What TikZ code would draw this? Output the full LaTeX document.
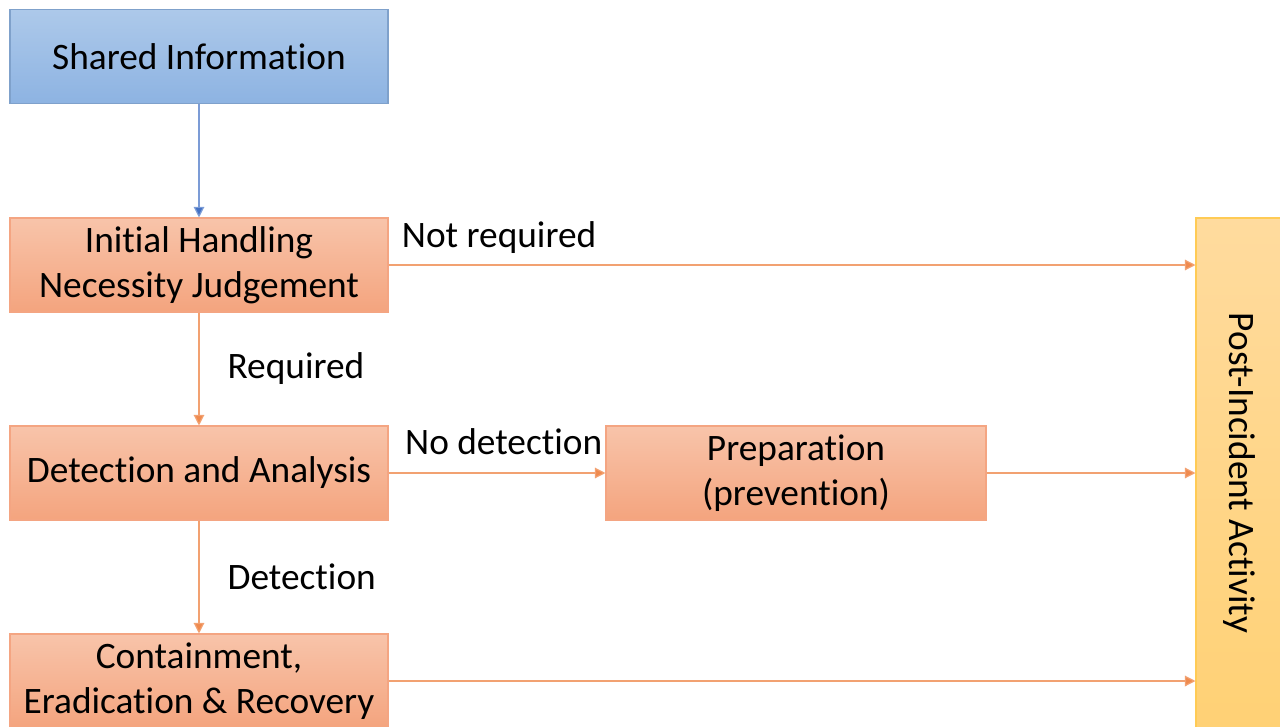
\documentclass[tikz,border=0pt]{standalone}
\usepackage{fontspec}
\setmainfont{Carlito}[RawFeature=-liga]
\usetikzlibrary{arrows.meta}

\definecolor{blueTop}{HTML}{ADC9EA}
\definecolor{blueBot}{HTML}{8DB3E2}
\definecolor{blueLine}{HTML}{4472C4}
\definecolor{orTop}{HTML}{F8C4AA}
\definecolor{orBot}{HTML}{F4A47E}
\definecolor{orEdge}{HTML}{F4A582}
\definecolor{orLine}{HTML}{EF8A4E}
\definecolor{yeTop}{HTML}{FFDB9E}
\definecolor{yeBot}{HTML}{FFD175}
\definecolor{yeEdge}{HTML}{FFCB55}

\begin{document}
\begin{tikzpicture}[x=0.75pt, y=-0.75pt,
    font=\fontsize{28pt}{33.5pt}\selectfont,
    box/.style={draw, line width=0.8pt, align=center, inner sep=0pt,
        minimum width=283.5pt, minimum height=70.5pt},
    bluebox/.style={box, draw=blueBot!90!black, top color=blueTop, bottom color=blueBot},
    orbox/.style={box, draw=orEdge, top color=orTop, bottom color=orBot},
    link/.style={line width=0.9pt, draw=orLine!80, -{Triangle[length=8pt,width=8pt,fill=orLine]}},
    lbl/.style={inner sep=0pt}]
    \useasboundingbox (0,0) rectangle (1280,727);
    \clip (0,0) rectangle (1280,727);
    % left column
    \node[bluebox] (Shared) at (199,56.5) {Shared Information};
    \node[orbox] (Initial) at (199,265) {Initial Handling\\Necessity Judgement};
    \node[orbox] (Detect) at (199,473) {Detection and Analysis};
    \node[orbox] (Contain) at (199,681) {Containment,\\Eradication \& Recovery};
    % middle and right
    \node[orbox, minimum width=285pt] (Prep) at (796,473) {Preparation\\(prevention)};
    \node[box, draw=yeEdge, top color=yeTop, bottom color=yeBot,
        minimum width=64.5pt, minimum height=382.5pt] (Post) at (1239,473)
        {\rotatebox{-90}{Post-Incident Activity}};
    % connectors
    \draw[line width=0.9pt, draw=blueLine!70,
        -{Triangle[length=8pt,width=8pt,fill=blueLine]}] (Shared) -- (Initial);
    \draw[link] (Initial) -- node[lbl, right, xshift=21pt] {Required} (Detect);
    \draw[link] (Detect) -- node[lbl, right, xshift=21pt] {Detection} (Contain);
    \draw[link] (Initial.east) -- node[lbl, pos=0.137, above, yshift=8pt] {Not required} (Initial.east -| Post.west);
    \draw[link] (Detect) -- node[lbl, midway, above, yshift=13pt, xshift=5pt] {No detection} (Prep);
    \draw[link] (Prep) -- (Prep.east -| Post.west);
    \draw[link] (Contain.east) -- (Contain.east -| Post.west);
\end{tikzpicture}
\end{document}
